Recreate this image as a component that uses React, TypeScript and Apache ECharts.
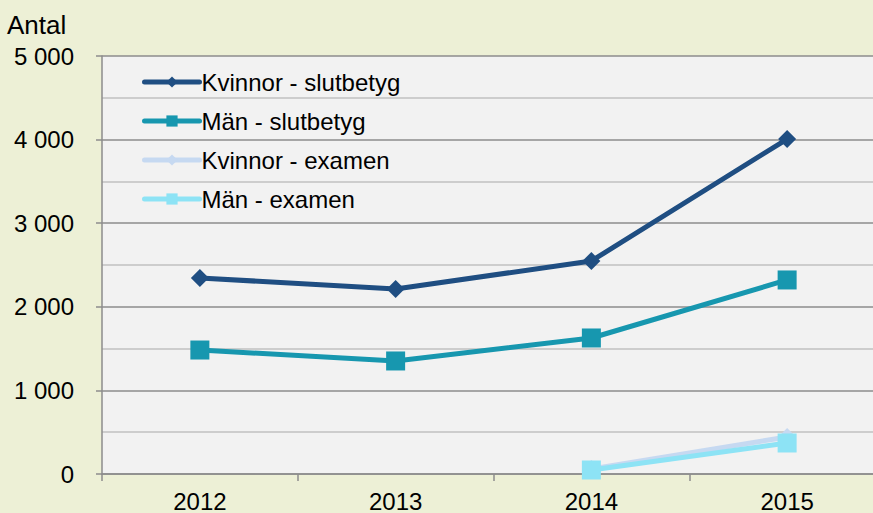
import React, { useEffect, useRef } from "react";
import * as echarts from "echarts";

const years = ["2012", "2013", "2014", "2015"];
const kvinnorSlutbetyg = [2345, 2213, 2548, 4007];
const manSlutbetyg = [1483, 1352, 1627, 2321];
const kvinnorExamen = [null, null, 60, 443];
const manExamen = [null, null, 48, 371];
const yTicks = [0, 1000, 2000, 3000, 4000, 5000];

const FONT = "Liberation Sans, Arial, sans-serif";

export default function App() {
  const ref = useRef<HTMLDivElement>(null);
  useEffect(() => {
    const chart = echarts.init(ref.current!, null, { renderer: "svg" });
    const mk = (name: string, data: any[], color: string, symbol: string, size: number) => ({
      name,
      type: "line",
      data,
      symbol,
      symbolSize: size,
      showSymbol: true,
      connectNulls: false,
      lineStyle: { width: 5, color },
      itemStyle: { color },
      emphasis: { disabled: true },
    });
    chart.setOption({
      animation: false,
      backgroundColor: "#EDF0D6",
      textStyle: { fontFamily: FONT },
      grid: {
        left: 102,
        top: 56,
        bottom: 39,
        width: 783,
        outerBoundsMode: "none",
        containLabel: false,
        show: true,
        backgroundColor: "#F2F2F2",
        borderWidth: 0,
      },
      graphic: [
        {
          type: "text",
          left: 7,
          top: 12,
          style: { text: "Antal", font: "26px " + FONT, fill: "#000" },
        },
      ],
      legend: {
        orient: "vertical",
        left: 137,
        top: 65,
        itemWidth: 55,
        itemHeight: 14,
        itemGap: 15,
        lineStyle: { width: 5, cap: "round" },
        textStyle: { fontSize: 24, color: "#000", fontFamily: FONT, padding: [0, 0, 0, -3] },
        data: ["Kvinnor - slutbetyg", "Män - slutbetyg", "Kvinnor - examen", "Män - examen"],
      },
      xAxis: {
        type: "category",
        data: years,
        boundaryGap: true,
        axisLine: { lineStyle: { color: "#8C8C8C", width: 1.5 } },
        axisTick: { show: true, length: 7, lineStyle: { color: "#8C8C8C", width: 1.5 } },
        axisLabel: { fontSize: 24, color: "#000", margin: 15, fontFamily: FONT },
        splitLine: { show: false },
      },
      yAxis: {
        type: "value",
        min: 0,
        max: 5000,
        interval: 1000,
        axisLine: { show: true, lineStyle: { color: "#8C8C8C", width: 1.5 } },
        axisTick: { show: true, length: 6, lineStyle: { color: "#8C8C8C", width: 1.5 } },
        axisLabel: {
          fontSize: 24,
          color: "#000",
          margin: 28,
          fontFamily: FONT,
          formatter: (v: number) =>
            yTicks.includes(v) ? String(v).replace(/\B(?=(\d{3})+(?!\d))/g, " ") : "",
        },
        splitLine: { show: true, lineStyle: { color: "#8C8C8C", width: 1.5 } },
        minorTick: { show: false, splitNumber: 2 },
        minorSplitLine: { show: true, lineStyle: { color: "#C0C0C0", width: 1.5 } },
      },
      series: [
        mk("Kvinnor - slutbetyg", kvinnorSlutbetyg, "#1F4E82", "diamond", 18),
        mk("Män - slutbetyg", manSlutbetyg, "#1797AF", "rect", 19),
        mk("Kvinnor - examen", kvinnorExamen, "#C6D9F1", "diamond", 18),
        mk("Män - examen", manExamen, "#8DE3F5", "rect", 19),
      ],
    });
    return () => chart.dispose();
  }, []);
  return (
    <div
      ref={ref}
      style={{ position: "fixed", left: 0, top: 0, width: 873, height: 513 }}
    />
  );
}
